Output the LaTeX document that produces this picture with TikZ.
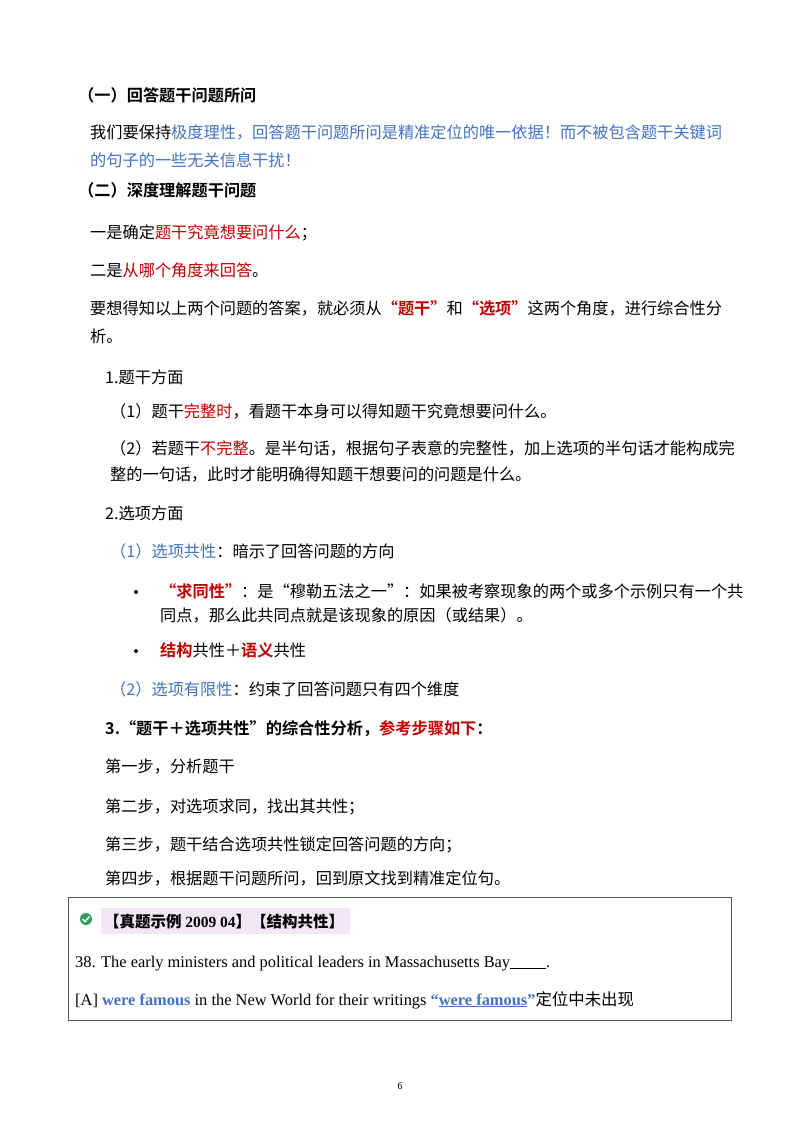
\documentclass[tikz,border=0pt]{standalone}
\usepackage{fontspec}
\setmainfont{Liberation Serif}
\newfontfamily\cjk{Noto Sans CJK SC}
\newfontfamily\cjkb{Noto Sans CJK SC Bold}
\begin{document}
\begin{tikzpicture}[x=1pt,y=-1pt,
  t/.style={anchor=base west,inner sep=0pt,font=\fontsize{16.2}{19}\selectfont\cjk},
  tb/.style={anchor=base west,inner sep=0pt,font=\fontsize{16.2}{19}\selectfont\cjkb}]
\definecolor{bl}{HTML}{4472C4}\definecolor{rd}{HTML}{C00000}\definecolor{gr}{HTML}{2E9E5B}\definecolor{pk}{HTML}{F3E6F7}
\useasboundingbox[fill=white] (0,0) rectangle (800,1132);
\node[tb] (h1) at (78,101) {（一）回答题干问题所问};
\node[t] (p1) at (90,138) {我们要保持\textcolor{bl}{极度理性，回答题干问题所问是精准定位的唯一依据！而不被包含题干关键词}};
\node[t] (p1b) at (90,166) {\textcolor{bl}{的句子的一些无关信息干扰！}};
\node[tb] (h2) at (78,196) {（二）深度理解题干问题};
\node[t] (a1) at (90,238) {一是确定\textcolor{rd}{题干究竟想要问什么}；};
\node[t] (a2) at (90,276) {二是\textcolor{rd}{从哪个角度来回答}。};
\node[t] (a3) at (90,314) {要想得知以上两个问题的答案，就必须从\textcolor{rd}{\cjkb“题干”}和\textcolor{rd}{\cjkb“选项”}这两个角度，进行综合性分};
\node[t] (a3b) at (90,342) {析。};
\node[t] (s1) at (105,383) {1.题干方面};
\node[t] (s1a) at (110,417) {（1）题干\textcolor{rd}{完整时}，看题干本身可以得知题干究竟想要问什么。};
\node[t] (s1b) at (110,454) {（2）若题干\textcolor{rd}{不完整}。是半句话，根据句子表意的完整性，加上选项的半句话才能构成完};
\node[t] (s1c) at (110,480) {整的一句话，此时才能明确得知题干想要问的问题是什么。};
\node[t] (s2) at (105,519) {2.选项方面};
\node[t] (s2a) at (110,557) {\textcolor{bl}{（1）选项共性}：暗示了回答问题的方向};
\fill (136,592) circle (2pt);
\node[t] (b1) at (160,597) {\textcolor{rd}{\cjkb“求同性”}：是“穆勒五法之一”：如果被考察现象的两个或多个示例只有一个共};
\node[t] (b1b) at (160,621) {同点，那么此共同点就是该现象的原因（或结果）。};
\fill (136,651) circle (2pt);
\node[t] (b2) at (160,656) {\textcolor{rd}{\cjkb 结构}共性＋\textcolor{rd}{\cjkb 语义}共性};
\node[t] (s2b) at (110,695) {\textcolor{bl}{（2）选项有限性}：约束了回答问题只有四个维度};
\node[tb] (s3) at (105,734) {3.“题干＋选项共性”的综合性分析，\textcolor{rd}{参考步骤如下}：};
\node[t] (st1) at (105,772) {第一步，分析题干};
\node[t] (st2) at (105,812) {第二步，对选项求同，找出其共性；};
\node[t] (st3) at (105,850) {第三步，题干结合选项共性锁定回答问题的方向；};
\node[t] (st4) at (105,884) {第四步，根据题干问题所问，回到原文找到精准定位句。};
\draw[gray!70!black,line width=0.8pt] (68,897) rectangle (731,1020);
\fill[gr] (86,919) circle (6pt);
\draw[white,line width=1.6pt] (82.5,919) -- (85,921.5) -- (89.5,916.5);
\fill[pk] (101,908) rectangle (350,934);
\node[anchor=base west,inner sep=0pt,font=\fontsize{15.5}{17}\selectfont\bfseries] (ex) at (104,927) {{\cjkb 【真题示例 }2009 04{\cjkb 】【结构共性】}};
\node[anchor=base west,inner sep=0pt,font=\fontsize{16.4}{19}\selectfont] (q) at (75,967) {38. The early ministers and political leaders in Massachusetts Bay\rule[-2pt]{36pt}{0.8pt}.};
\node[anchor=base west,inner sep=0pt,font=\fontsize{16.4}{19}\selectfont] (A) at (75,1005) {[A] \textcolor{bl}{\bfseries were famous} in the New World for their writings \textcolor{bl}{\bfseries “\underline{were famous}”}{\cjk 定位中未出现}};
\node[anchor=base,inner sep=0pt,font=\fontsize{10}{12}\selectfont\sffamily] (pg) at (400,1089) {6};
\end{tikzpicture}
\end{document}
